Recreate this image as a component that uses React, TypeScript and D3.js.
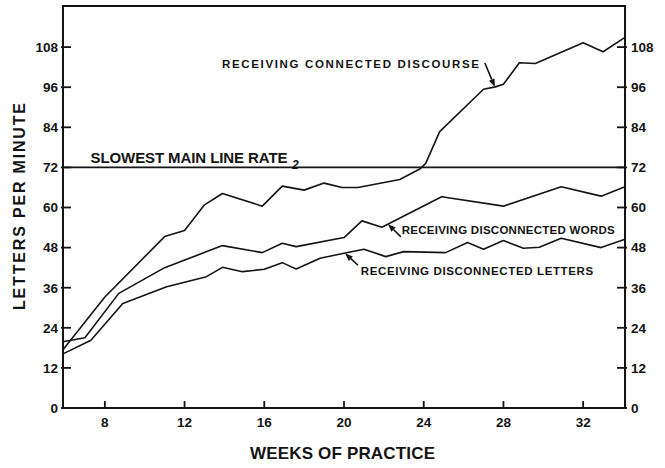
import React from 'react';
import * as d3 from 'd3';

// [week, letters per minute]
const connectedDiscourse: [number, number][] = [
  [5.9, 17.4], [8, 33.2], [11, 51.3], [12, 53.1], [13, 60.8], [13.9, 64.2],
  [15.9, 60.4], [16.9, 66.4], [18, 65.2], [19, 67.3], [19.9, 66], [20.7, 66],
  [22.8, 68.4], [23.8, 71.5], [24.1, 73.2], [24.8, 82.7], [27, 95.4], [27.6, 96.1],
  [28, 96.9], [28.8, 103.3], [29.6, 103.1], [32, 109.3], [33, 106.6], [34.1, 110.9],
];
const disconnectedWords: [number, number][] = [
  [5.9, 19.8], [7.0, 21], [8.7, 34.3], [11, 42], [13.9, 48.6], [15.9, 46.5],
  [16.9, 49.3], [17.6, 48.3], [20, 51], [20.9, 56], [21.9, 54.1], [24.9, 63.2],
  [28, 60.4], [30.9, 66.2], [32.9, 63.4], [34.1, 66.2],
];
const disconnectedLetters: [number, number][] = [
  [5.9, 16.2], [7.3, 20.3], [8.9, 31.3], [11.1, 36.3], [13.1, 39.3], [13.9, 42.1],
  [14.9, 40.8], [16, 41.5], [16.9, 43.5], [17.6, 41.6], [18.8, 44.8], [20, 46.3],
  [21, 47.5], [22.1, 45.3], [23, 46.8], [25.1, 46.5], [26.2, 49.5], [27, 47.5],
  [28, 50.1], [29, 47.8], [29.8, 48.1], [30.9, 50.8], [32.9, 48], [34.1, 50.5],
];
const slowestMainLineRate = 72;
const xTicks = [8, 12, 16, 20, 24, 28, 32];
const yTicks = [0, 12, 24, 36, 48, 60, 72, 84, 96, 108];
// arrow tips in data coordinates
const connectedArrowTip: [number, number] = [27.57, 96.05];
const wordsArrowTip: [number, number] = [22.2, 55.1];
const lettersArrowTip: [number, number] = [20.05, 46.3];

const W = 665, H = 468;
const L = 63, R = 625, T = 6, B = 408;
const INK = '#141414';
const FONT = '"Liberation Sans", Arial, sans-serif';

export default function App() {
  const x = d3.scaleLinear().domain([5.9, 34.1]).range([L, R]);
  const y = d3.scaleLinear().domain([0, 120.3]).range([B, T]);
  const line = d3.line<[number, number]>().x(d => x(d[0])).y(d => y(d[1]));

  const arrow = (tip: [number, number], dx: number, dy: number) => {
    const tx = x(tip[0]), ty = y(tip[1]);
    const sx = tx + dx, sy = ty + dy;
    const ang = Math.atan2(ty - sy, tx - sx);
    const hl = 8, hw = 3;
    const bx = tx - hl * Math.cos(ang), by = ty - hl * Math.sin(ang);
    const px = -Math.sin(ang) * hw, py = Math.cos(ang) * hw;
    return (
      <g>
        <line x1={sx} y1={sy} x2={bx} y2={by} stroke={INK} strokeWidth={1.6} />
        <path d={`M${tx},${ty}L${bx + px},${by + py}L${bx - px},${by - py}Z`} fill={INK} />
      </g>
    );
  };

  const labelStyle = { fontFamily: FONT, fontWeight: 700, fill: INK } as const;

  return (
    <svg width={W} height={H} style={{ position: 'absolute', left: 0, top: 0, background: '#fff' }}>
      <rect x={0} y={0} width={W} height={H} fill="#fff" />
      {/* frame */}
      <rect x={L} y={T} width={R - L} height={B - T} fill="none" stroke={INK} strokeWidth={2} />
      {/* y ticks both sides */}
      {yTicks.map(t => (
        <g key={'y' + t}>
          <line x1={L - 2} x2={L + 8} y1={y(t)} y2={y(t)} stroke={INK} strokeWidth={1.8} />
          <line x1={R - 8} x2={R + 2} y1={y(t)} y2={y(t)} stroke={INK} strokeWidth={1.8} />
          <text x={58} y={y(t)} dy="0.36em" textAnchor="end" fontSize={13.5} {...labelStyle}>{t}</text>
          <text x={631} y={y(t)} dy="0.36em" textAnchor="start" fontSize={13.5} {...labelStyle}>{t}</text>
        </g>
      ))}
      {/* x ticks */}
      {xTicks.map(t => (
        <g key={'x' + t}>
          <line x1={x(t)} x2={x(t)} y1={B + 1} y2={B - 7} stroke={INK} strokeWidth={1.8} />
          <text x={x(t)} y={427} textAnchor="middle" fontSize={13.5} {...labelStyle}>{t}</text>
        </g>
      ))}
      {/* slowest main line rate */}
      <line x1={L} x2={R} y1={y(slowestMainLineRate)} y2={y(slowestMainLineRate)} stroke={INK} strokeWidth={1.6} />
      <text x={90.5} y={163.3} fontSize={15} textLength={197} lengthAdjust="spacing" fontFamily={FONT} fontWeight={600} fill={INK}>SLOWEST MAIN LINE RATE</text>
      <text x={292} y={168.5} fontSize={12} fontStyle="italic" {...labelStyle}>2</text>
      {/* series */}
      {[connectedDiscourse, disconnectedWords, disconnectedLetters].map((s, i) => (
        <path key={i} d={line(s) || ''} fill="none" stroke={INK} strokeWidth={1.6} strokeLinejoin="round" />
      ))}
      {/* annotations */}
      <text x={222} y={68} fontSize={11.5} textLength={257} lengthAdjust="spacing" {...labelStyle}>RECEIVING CONNECTED DISCOURSE</text>
      {arrow(connectedArrowTip, -10, -24)}
      <text x={401.7} y={234.3} fontSize={11.5} textLength={213} lengthAdjust="spacing" {...labelStyle}>RECEIVING DISCONNECTED WORDS</text>
      {arrow(wordsArrowTip, 13, 13)}
      <text x={360.7} y={275} fontSize={11.5} textLength={232.5} lengthAdjust="spacing" {...labelStyle}>RECEIVING DISCONNECTED LETTERS</text>
      {arrow(lettersArrowTip, 13, 12)}
      {/* axis titles */}
      <text transform="translate(25,206.5) rotate(-90)" textAnchor="middle" fontSize={16} textLength={207} lengthAdjust="spacing" fontFamily={FONT} fontWeight={600} fill={INK}>LETTERS PER MINUTE</text>
      <text x={250} y={459} fontSize={17} textLength={185} lengthAdjust="spacing" fontFamily={FONT} fontWeight={600} fill={INK}>WEEKS OF PRACTICE</text>
    </svg>
  );
}
